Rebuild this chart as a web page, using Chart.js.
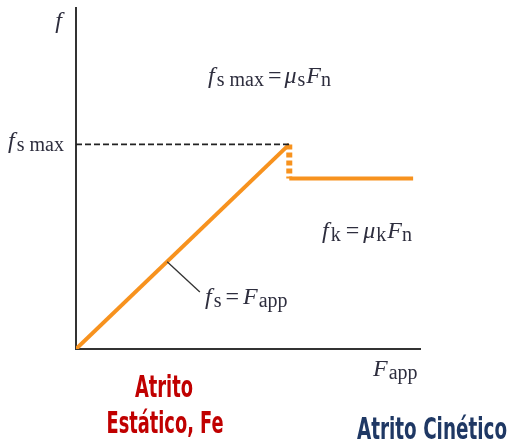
<!DOCTYPE html>
<html>
<head>
<meta charset="utf-8">
<script src="https://cdn.jsdelivr.net/npm/chart.js@4/dist/chart.umd.min.js"></script>
<style>
  html, body { margin: 0; padding: 0; background: #fff; }
  #wrap { width: 510px; height: 446px; position: relative; }
</style>
</head>
<body>
<div id="wrap"><canvas id="c" width="510" height="446"></canvas></div>
<script>
// Friction force f versus applied force F_app (arbitrary units)
const staticX = [0, 6.2];        // static friction grows with F_app
const staticY = [0, 6.0];
const breakX = 6.2;              // point where sliding starts
const fsMax = 6.0;               // maximum static friction
const fk = 5.0;                  // kinetic friction level
const kineticX = [6.2, 9.8];
const kineticY = [5.0, 5.0];
const leaderFrom = [2.65, 2.56]; // callout from the static branch
const leaderTo = [3.6, 1.67];

const orange = '#f7921e';
const ink = '#2e2e3e';

function pts(xs, ys) { return xs.map((x, i) => ({ x, y: ys[i] })); }

// Draws a run of italic/roman pieces with subscripts
function rich(ctx, x, y, parts, align) {
  const main = 24, sub = 20;
  const fontOf = p => {
    const size = p.sub ? sub : main;
    return (p.it ? 'italic ' : '') + size + 'px "Liberation Serif", "DejaVu Serif", serif';
  };
  let w = 0;
  parts.forEach(p => { ctx.font = fontOf(p); w += ctx.measureText(p.t).width + (p.gap || 0); });
  let cx = align === 'right' ? x - w : x;
  ctx.fillStyle = ink;
  ctx.textBaseline = 'alphabetic';
  ctx.textAlign = 'left';
  parts.forEach(p => {
    ctx.font = fontOf(p);
    ctx.fillText(p.t, cx, y + (p.sub ? 3 : 0));
    cx += ctx.measureText(p.t).width + (p.gap || 0);
  });
}

// Condensed bold caption fitted to a width
function caption(ctx, text, cx, baseline, width, color) {
  ctx.save();
  ctx.font = 'bold 31px "DejaVu Sans Condensed", "DejaVu Sans", sans-serif';
  const m = ctx.measureText(text).width;
  const s = width / m;
  ctx.translate(cx, baseline);
  ctx.scale(s, 1);
  ctx.fillStyle = color;
  ctx.textAlign = 'center';
  ctx.textBaseline = 'alphabetic';
  ctx.fillText(text, 0, 0);
  ctx.restore();
}

const annotations = {
  id: 'annotations',
  afterDatasetsDraw(chart) {
    const ctx = chart.ctx;
    const xs = chart.scales.x, ys = chart.scales.y;
    const px = v => xs.getPixelForValue(v), py = v => ys.getPixelForValue(v);

    // callout line
    ctx.save();
    ctx.strokeStyle = '#333';
    ctx.lineWidth = 1.3;
    ctx.beginPath();
    ctx.moveTo(px(leaderFrom[0]), py(leaderFrom[1]));
    ctx.lineTo(px(leaderTo[0]), py(leaderTo[1]));
    ctx.stroke();
    ctx.restore();

    // axis names
    rich(ctx, 62, 28, [{ t: 'f', it: true }], 'right');
    rich(ctx, 64, py(fsMax) + 4, [{ t: 'f', it: true, gap: 2 }, { t: 's max', sub: true }], 'right');
    rich(ctx, 373, 376, [{ t: 'F', it: true, gap: 1 }, { t: 'app', sub: true }], 'left');

    // relations
    rich(ctx, 208, 83, [
      { t: 'f', it: true, gap: 2 }, { t: 's max', sub: true, gap: 4 },
      { t: '=', gap: 3 }, { t: 'μ', it: true, gap: 1 }, { t: 's', sub: true, gap: 1 },
      { t: 'F', it: true }, { t: 'n', sub: true }
    ], 'left');
    rich(ctx, 322, 238, [
      { t: 'f', it: true, gap: 2 }, { t: 'k', sub: true, gap: 5 },
      { t: '=', gap: 4 }, { t: 'μ', it: true, gap: 1 }, { t: 'k', sub: true, gap: 1 },
      { t: 'F', it: true }, { t: 'n', sub: true }
    ], 'left');
    rich(ctx, 205, 304, [
      { t: 'f', it: true, gap: 2 }, { t: 's', sub: true, gap: 4 },
      { t: '=', gap: 4 }, { t: 'F', it: true, gap: 1 }, { t: 'app', sub: true }
    ], 'left');

    // captions
    caption(ctx, 'Atrito', 164, 397, 58, '#c00000');
    caption(ctx, 'Estático, Fe', 165, 433, 117, '#c00000');
    caption(ctx, 'Atrito Cinético', 432, 439, 150, '#1f3864');
  }
};

new Chart(document.getElementById('c'), {
  type: 'scatter',
  data: {
    datasets: [
      { data: pts([0, breakX], [fsMax, fsMax]), showLine: true, borderColor: '#222', borderWidth: 1.6, borderDash: [6, 3], pointRadius: 0 },
      { data: pts(staticX, staticY), showLine: true, borderColor: orange, borderWidth: 4, pointRadius: 0 },
      { data: pts([breakX, breakX], [fsMax, fk]), showLine: true, borderColor: orange, borderWidth: 6, borderDash: [5, 3], pointRadius: 0 },
      { data: pts(kineticX, kineticY), showLine: true, borderColor: orange, borderWidth: 4, pointRadius: 0 }
    ]
  },
  options: {
    responsive: false,
    animation: false,
    events: [],
    layout: { padding: { left: 76, top: 8, right: 90, bottom: 97 } },
    plugins: { legend: { display: false }, tooltip: { enabled: false } },
    scales: {
      x: {
        type: 'linear', min: 0, max: 10,
        grid: { display: false, drawTicks: false },
        ticks: { display: false },
        border: { display: true, color: '#333', width: 2 },
        afterFit(s) { s.height = 0; }
      },
      y: {
        type: 'linear', min: 0, max: 10,
        grid: { display: false, drawTicks: false },
        ticks: { display: false },
        border: { display: true, color: '#333', width: 2 },
        afterFit(s) { s.width = 0; }
      }
    }
  },
  plugins: [annotations]
});
</script>
</body>
</html>
